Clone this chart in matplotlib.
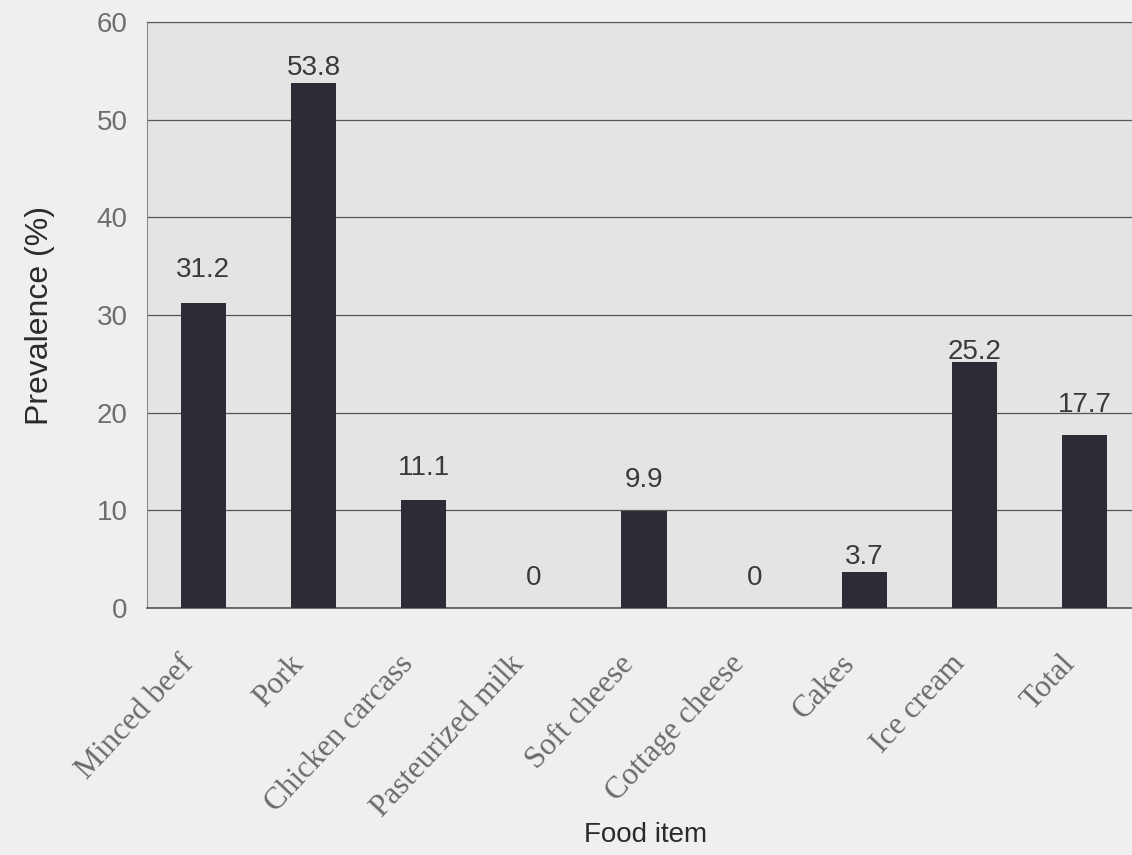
import matplotlib
matplotlib.use('Agg')
import matplotlib.pyplot as plt
from matplotlib.transforms import ScaledTranslation

# data
foods = ['Minced beef', 'Pork', 'Chicken carcass', 'Pasteurized milk', 'Soft cheese',
         'Cottage cheese', 'Cakes', 'Ice cream', 'Total']
prevalence = [31.2, 53.8, 11.1, 0, 9.9, 0, 3.7, 25.2, 17.7]
value_labels = ['31.2', '53.8', '11.1', '0', '9.9', '0', '3.7', '25.2', '17.7']
y_ticks = [0, 10, 20, 30, 40, 50, 60]

# how far above each bar its label sits (data units)
label_lift = [3.4, 1.5, 3.2, 3.1, 3.2, 3.1, 1.5, 1.0, 3.1]

fig = plt.figure(figsize=(11.32, 8.55), dpi=100)
fig.patch.set_facecolor('#efeff1')
ax = fig.add_axes([0.13, 0.289, 0.87, 0.685])
ax.set_facecolor('#e4e4e4')

x = list(range(len(foods)))
ax.bar(x, prevalence, width=0.41, color='#2c2c36', zorder=3)

for xi, v, lab, lift in zip(x, prevalence, value_labels, label_lift):
    ax.text(xi, v + lift, lab, ha='center', va='center', fontsize=20,
            family='Liberation Sans', color='#3a3a3a', zorder=4)

ax.set_xlim(-0.51, 8.43)
ax.set_ylim(0, 60)
ax.set_yticks(y_ticks)
ax.set_yticklabels([str(t) for t in y_ticks], fontsize=20, family='Liberation Sans', color='#6e6e6e')
ax.tick_params(axis='y', length=0, pad=14)
ax.tick_params(axis='x', length=0, pad=30)
ax.set_xticks(x)
ax.set_xticklabels(foods, rotation=47, ha='right', rotation_mode='anchor',
                   fontsize=22.5, family='Liberation Serif', color='#6a6a6a')
shift = ScaledTranslation(-0.25, 0, fig.dpi_scale_trans)
for lbl in ax.get_xticklabels():
    lbl.set_transform(lbl.get_transform() + shift)

ax.grid(axis='y', color='#555555', linewidth=0.9, zorder=1)
ax.set_axisbelow(True)
ax.spines['right'].set_visible(False)
ax.spines['top'].set_color('#555555')
ax.spines['left'].set_color('#8a8a8a')
ax.spines['bottom'].set_color('#555555')
ax.spines['bottom'].set_linewidth(1.2)

ax.set_ylabel('Prevalence (%)', fontsize=23, family='Liberation Sans',
              color='#2a2a2a', labelpad=30)
fig.text(0.57, 0.023, 'Food item', ha='center', va='center', fontsize=20,
         family='Liberation Sans', color='#2a2a2a')

fig.savefig('out.png', dpi=100, facecolor=fig.get_facecolor())
